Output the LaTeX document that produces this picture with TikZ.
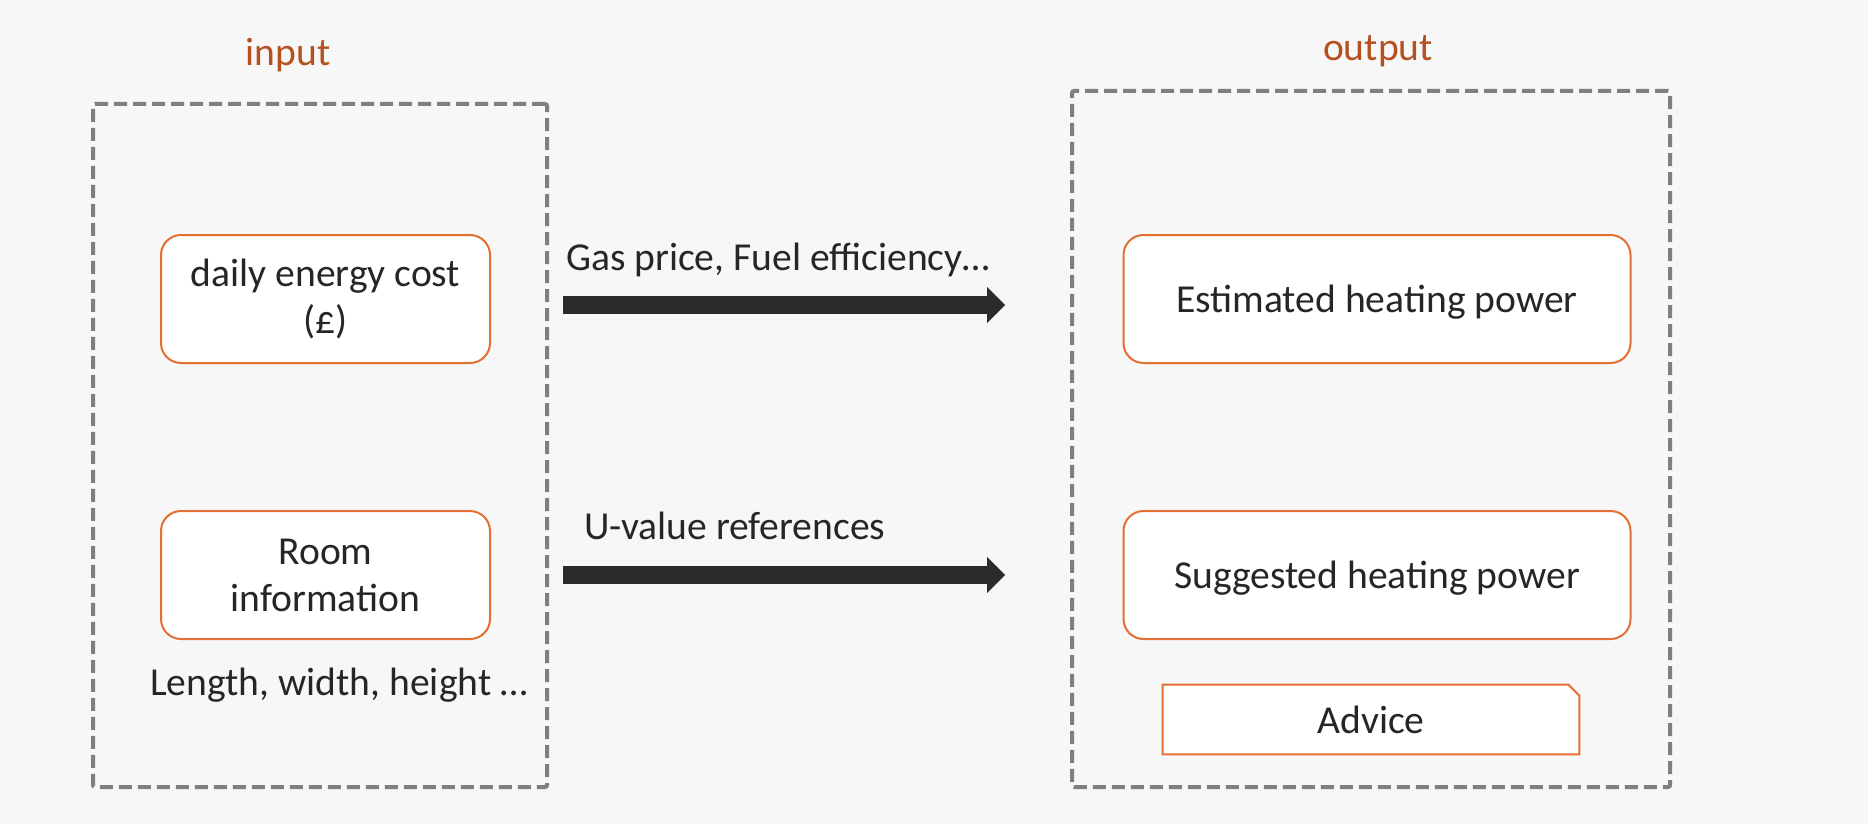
\documentclass[tikz,border=0pt]{standalone}
\usepackage{fontspec}
\setmainfont{Carlito}
\usetikzlibrary{arrows.meta}
\definecolor{rust}{HTML}{B5501F}
\definecolor{boxorange}{HTML}{E46F32}
\definecolor{dashgray}{HTML}{7F7F7F}
\definecolor{ink}{HTML}{262626}
\definecolor{arrowink}{HTML}{2B2B2B}
\definecolor{paper}{HTML}{F7F7F7}
\begin{document}
\begin{tikzpicture}[x=0.5pt, y=-0.5pt,
    every node/.style={font=\fontsize{19.8}{23.5}\selectfont, text=ink},
    panel/.style={draw=dashgray, line width=2pt, dash pattern=on 6.5pt off 3pt, rounded corners=1pt, minimum width=227pt, minimum height=341.5pt, inner sep=0pt},
    roundbox/.style={draw=boxorange, fill=white, line width=1pt, rounded corners=10pt, minimum height=64pt, align=center, inner sep=0pt},
    heading/.style={text=rust},
    bigarrow/.style={arrowink, line width=9pt, -{Triangle[length=9pt, width=18pt, line width=0pt]}}]
    \fill[paper] (0,0) rectangle (1868,824);

    \node[heading] (inlabel)  at (288, 55) {input};
    \node[heading] (outlabel) at (1378, 51) {output};

    \node[panel] (inpanel)  at (320, 445.5) {};
    \node[panel, minimum width=299pt, minimum height=348pt] (outpanel) at (1371, 439) {};

    \node[roundbox, minimum width=164.5pt] (cost) at (325.5, 299) {daily energy cost\\(£)};
    \node[roundbox, minimum width=164.5pt] (room) at (325.5, 575) {Room\\information};
    \node (dims) at (339, 685) {Length, width, height \dots};

    \node[roundbox, minimum width=253.5pt, text depth=0pt] (estimated) at (1377, 299) {Estimated heating power};
    \node[roundbox, minimum width=253.5pt, text depth=0pt] (suggested) at (1377, 575) {Suggested heating power};
    \node[minimum width=208pt, minimum height=34.5pt, inner sep=0pt] (advice) at (1371, 719.5) {};
    \draw[draw=boxorange, fill=white, line width=1pt] (advice.south west) -- (advice.north west)
        -- ([xshift=-5.5pt]advice.north east) -- ([yshift=-5.5pt]advice.north east) -- (advice.south east) -- cycle;
    \node at (advice.center) {Advice};

    \coordinate (gasstart) at (563, 305);
    \coordinate (gasend)   at (1005, 305);
    \coordinate (ustart)   at (563, 575);
    \coordinate (uend)     at (1005, 575);
    \draw[bigarrow] (gasstart) -- (gasend);
    \draw[bigarrow] (ustart) -- (uend);
    \node[anchor=west] (gaslabel) at (559, 260) {Gas price, Fuel efficiency\dots};
    \node[anchor=west] (ulabel)   at (577, 526) {U-value references};
\end{tikzpicture}
\end{document}
